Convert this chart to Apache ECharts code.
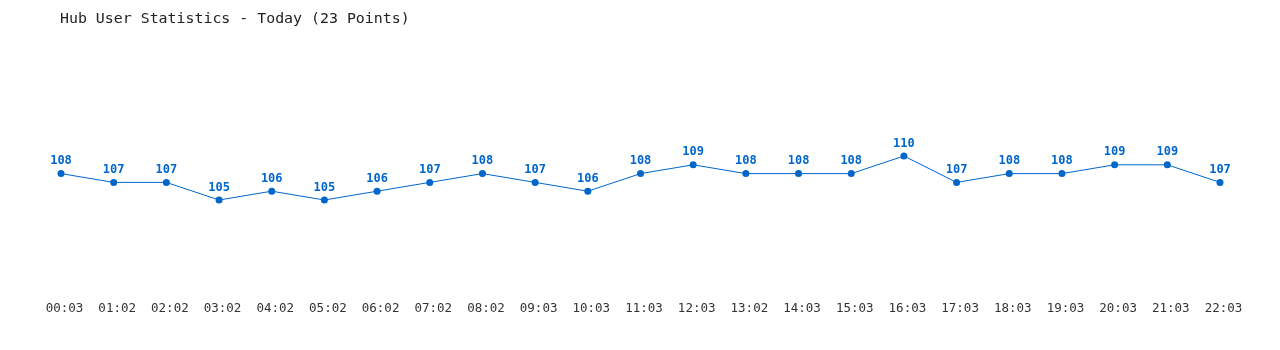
<!DOCTYPE html>
<html>
<head>
<meta charset="utf-8">
<script src="https://cdn.jsdelivr.net/npm/echarts@6/dist/echarts.min.js"></script>
<style>html,body{margin:0;padding:0;background:#fff}#c{width:1280px;height:350px}</style>
</head>
<body>
<div id="c"></div>
<script>
const title = "Hub User Statistics - Today (23 Points)";
const times = ["00:03","01:02","02:02","03:02","04:02","05:02","06:02","07:02","08:02","09:03","10:03","11:03","12:03","13:02","14:03","15:03","16:03","17:03","18:03","19:03","20:03","21:03","22:03"];
const users = [108,107,107,105,106,105,106,107,108,107,106,108,109,108,108,108,110,107,108,108,109,109,107];

const chart = echarts.init(document.getElementById('c'), null, {renderer: 'canvas'});
chart.setOption({
  animation: false,
  backgroundColor: '#ffffff',
  title: {
    text: title,
    left: 60, top: 12, padding: 0,
    textStyle: {fontFamily: 'DejaVu Sans Mono', fontSize: 14.9, fontWeight: 'normal', color: '#222222'}
  },
  grid: {left: 61, right: 60, top: 112, bottom: 62},
  xAxis: {
    type: 'category',
    data: times,
    boundaryGap: false,
    axisLine: {show: false},
    axisTick: {show: false},
    splitLine: {show: false},
    axisLabel: {
      fontFamily: 'DejaVu Sans Mono', fontSize: 12.5, color: '#333333',
      margin: 14, interval: 0, padding: [0, 0, 0, 7]
    }
  },
  yAxis: {
    type: 'value', min: 95, max: 115,
    show: false
  },
  series: [{
    type: 'line',
    data: users,
    symbol: 'circle',
    symbolSize: 7,
    lineStyle: {color: '#0066cc', width: 1},
    itemStyle: {color: '#0066cc'},
    label: {
      show: true, position: 'top', distance: 3,
      fontFamily: 'DejaVu Sans Mono', fontSize: 12, fontWeight: 'bold', color: '#0066cc'
    }
  }]
});
</script>
</body>
</html>
